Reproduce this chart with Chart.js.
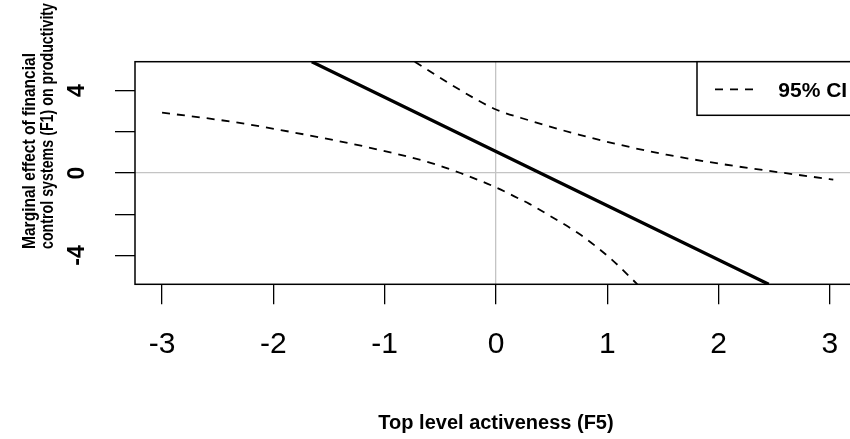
<!DOCTYPE html>
<html>
<head>
<meta charset="utf-8">
<script src="https://cdn.jsdelivr.net/npm/chart.js@4.4.1/dist/chart.umd.min.js"></script>
<style>
  html, body { margin: 0; padding: 0; background: #fff; overflow: hidden; }
  #wrap { width: 870px; height: 439px; }
</style>
</head>
<body>
<div id="wrap"><canvas id="chart" width="870" height="439"></canvas></div>
<script>
const FONT = '"Liberation Sans", Arial, Helvetica, sans-serif';

const xTicks = [-3, -2, -1, 0, 1, 2, 3];
const yTicks = [-4, -2, 0, 2, 4];
const yLabelled = [-4, 0, 4];

// marginal effect line
const effectX = [-1.655, 0, 2.45];
const effectY = [5.4, 1.045, -5.4];

// 95% CI bounds
const upperX = [-0.73, -0.47, -0.17, 0, 0.3, 0.75, 1.2, 1.53, 2.07, 2.55, 3.03];
const upperY = [5.4, 4.51, 3.55, 3.08, 2.55, 1.85, 1.26, 0.89, 0.4, 0.03, -0.32];

const lowerX = [-3.0, -2.39, -1.79, -1.16, -0.58, -0.32, -0.14, 0, 0.16, 0.3, 0.46, 0.76, 1.05, 1.27];
const lowerY = [2.93, 2.5, 1.94, 1.26, 0.48, 0, -0.38, -0.7, -1.12, -1.5, -2.0, -3.0, -4.25, -5.4];

const xTitle = "Top level activeness (F5)";
const yTitle = ["Marginal effect of financial", "control systems (F1) on productivity"];
const legendLabel = "95% CI";

const GREY = "#c4c4c4";

function pts(xs, ys) {
  return xs.map((x, i) => ({ x: x, y: ys[i] }));
}

// box round the plot, legend, y title
const framePlugin = {
  id: "frame",
  afterDatasetsDraw(chart) {
    const { ctx, chartArea: a } = chart;
    ctx.save();
    ctx.strokeStyle = "#000";
    ctx.lineWidth = 1.5;
    ctx.strokeRect(a.left, a.top, a.right - a.left, a.bottom - a.top);

    // legend
    const lx = 697, ly = a.top, lh = 53.6;
    ctx.fillStyle = "#fff";
    ctx.fillRect(lx, ly, 200, lh);
    ctx.strokeRect(lx, ly, 200, lh);
    ctx.setLineDash([8, 7]);
    ctx.lineWidth = 1.8;
    ctx.beginPath();
    ctx.moveTo(715, 89.3);
    ctx.lineTo(757, 89.3);
    ctx.stroke();
    ctx.setLineDash([]);
    ctx.fillStyle = "#000";
    ctx.font = "bold 21px " + FONT;
    ctx.textAlign = "left";
    ctx.textBaseline = "alphabetic";
    ctx.fillText(legendLabel, 778.3, 96.7);
    ctx.restore();
  },
  afterDraw(chart) {
    const ctx = chart.ctx;
    ctx.save();
    ctx.translate(30, 249);
    ctx.rotate(-Math.PI / 2);
    ctx.fillStyle = "#000";
    ctx.font = "bold 19px " + FONT;
    ctx.textAlign = "left";
    ctx.textBaseline = "middle";
    ctx.fillText(yTitle[0], 0, 0, 196);
    ctx.fillText(yTitle[1], 0, 17.5, 246);
    ctx.restore();
  },
};

new Chart(document.getElementById("chart"), {
  type: "scatter",
  data: {
    datasets: [
      {
        label: "Marginal effect",
        data: pts(effectX, effectY),
        showLine: true,
        borderColor: "#000",
        borderWidth: 3.2,
        pointRadius: 0,
        tension: 0,
      },
      {
        label: legendLabel,
        data: pts(upperX, upperY),
        showLine: true,
        borderColor: "#000",
        borderWidth: 1.8,
        borderDash: [8, 7],
        pointRadius: 0,
        cubicInterpolationMode: "monotone",
      },
      {
        label: legendLabel + " (lower)",
        data: pts(lowerX, lowerY),
        showLine: true,
        borderColor: "#000",
        borderWidth: 1.8,
        borderDash: [8, 7],
        pointRadius: 0,
        cubicInterpolationMode: "monotone",
      },
    ],
  },
  options: {
    responsive: false,
    animation: false,
    layout: { padding: { top: 61.7, right: 13, left: 0, bottom: 0 } },
    plugins: {
      legend: { display: false },
      tooltip: { enabled: false },
    },
    scales: {
      x: {
        type: "linear",
        min: -3.243,
        max: 3.243,
        afterBuildTicks: (s) => {
          s.ticks = xTicks.map((v) => ({ value: v }));
        },
        afterFit: (s) => {
          s.height = 154.7;
        },
        border: { display: false },
        grid: {
          color: (c) => (c.tick && c.tick.value === 0 ? GREY : "rgba(0,0,0,0)"),
          tickColor: "#000",
          tickLength: 20,
          lineWidth: 1.3,
        },
        ticks: {
          autoSkip: false,
          maxRotation: 0,
          padding: 22,
          color: "#000",
          font: { family: FONT, size: 30 },
          callback: (v) => String(v),
        },
        title: {
          display: true,
          text: xTitle,
          color: "#000",
          font: { family: FONT, size: 20, weight: "bold" },
          padding: { top: 0, bottom: 4 },
        },
      },
      y: {
        type: "linear",
        min: -5.4,
        max: 5.4,
        afterBuildTicks: (s) => {
          s.ticks = yTicks.map((v) => ({ value: v }));
        },
        afterFit: (s) => {
          s.width = 135;
        },
        border: { display: false },
        grid: {
          color: (c) => (c.tick && c.tick.value === 0 ? GREY : "rgba(0,0,0,0)"),
          tickColor: "#000",
          tickLength: 20,
          lineWidth: 1.3,
        },
        ticks: {
          autoSkip: false,
          minRotation: 90,
          maxRotation: 90,
          crossAlign: "center",
          padding: 27,
          color: "#000",
          font: { family: FONT, size: 23, weight: "bold" },
          callback: (v) => (yLabelled.includes(v) ? String(v) : ""),
        },
      },
    },
  },
  plugins: [framePlugin],
});
</script>
</body>
</html>
